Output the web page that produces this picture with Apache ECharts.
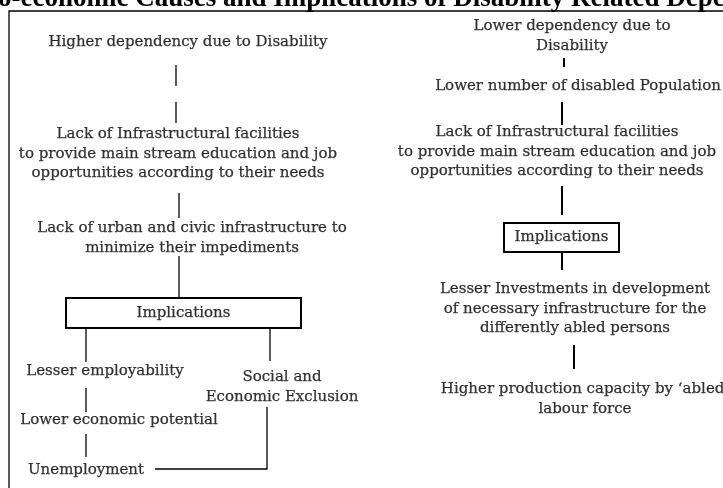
<!DOCTYPE html>
<html>
<head>
<meta charset="utf-8">
<script src="https://cdn.jsdelivr.net/npm/echarts@6/dist/echarts.min.js"></script>
<style>
  html, body { margin: 0; padding: 0; background: #fff; }
  #chart { width: 723px; height: 488px; }
</style>
</head>
<body>
<div id="chart"></div>
<script>
// 流程图：残疾相关依赖的社会经济原因与影响
const titleText = "Socio-economic Causes and Implications of Disability Related Dependency";

// text nodes (centre positions in page units)
const nodeTexts = [
  "Higher dependency due to Disability",
  "Lack of Infrastructural facilities\nto provide main stream education and job\nopportunities according to their needs",
  "Lack of urban and civic infrastructure to\nminimize their impediments",
  "Lesser employability",
  "Social and\nEconomic Exclusion",
  "Lower economic potential",
  "Unemployment",
  "Lower dependency due to\nDisability",
  "Lower number of disabled Population",
  "Lack of Infrastructural facilities\nto provide main stream education and job\nopportunities according to their needs",
  "Lesser Investments in development\nof necessary infrastructure for the\ndifferently abled persons",
  "Higher production capacity by \u2018abled\u2019\nlabour force"
];
const nodeX = [188, 178, 192, 105, 282, 119, 86, 572, 578, 557, 575, 585];
const nodeY = [42, 154, 238, 371, 387, 420, 470, 36, 86, 152, 309, 399];

// boxed headings
const boxTexts = ["Implications", "Implications"];
const boxX = [183.5, 561.5];
const boxY = [313, 237.5];
const boxW = [235, 115];
const boxH = [30, 29];

// connector polylines
const leftLinks = [
  [[176, 65], [176, 86]],
  [[176, 102], [176, 123]],
  [[179, 193], [179, 218]],
  [[179, 256], [179, 298]],
  [[86, 328], [86, 362]],
  [[270, 328], [270, 361]],
  [[86, 388], [86, 412]],
  [[86, 434], [86, 457]],
  [[155, 469], [267, 469], [267, 407]]
];
const rightLinks = [
  [[564, 58], [564, 67]],
  [[562, 102], [562, 125]],
  [[562, 186], [562, 215]],
  [[562, 252], [562, 270]],
  [[574, 345], [574, 369]]
];
const frame = [[[9, 488], [9, 11], [723, 11]]];

(function () {
  var myChart = echarts.init(document.getElementById("chart"));
  const font = "DejaVu Serif";

  const toLines = (arr) => arr.map((c) => ({ coords: c }));
  const textLabel = {
    show: true,
    position: "inside",
    formatter: (p) => p.name,
    color: "#000",
    fontFamily: font,
    fontSize: 15,
    lineHeight: 19.5,
    align: "center",
    textBorderColor: "#000",
    textBorderWidth: 0.25
  };

  var option = {
    animation: false,
    grid: { left: 0, right: 0, top: 0, bottom: 0 },
    xAxis: { type: "value", min: 0, max: 723, show: false },
    yAxis: { type: "value", min: 0, max: 488, inverse: true, show: false },
    graphic: [
      {
        type: "text",
        x: -50,
        y: 13,
        style: {
          text: titleText,
          fontFamily: "Liberation Serif",
          fontWeight: "bold",
          fontSize: 27,
          fill: "#000",
          textAlign: "left",
          textVerticalAlign: "bottom"
        }
      }
    ],
    series: [
      {
        type: "lines",
        coordinateSystem: "cartesian2d",
        polyline: true,
        silent: true,
        lineStyle: { color: "#000", width: 1.3, opacity: 1 },
        data: toLines(leftLinks.concat(frame))
      },
      {
        type: "lines",
        coordinateSystem: "cartesian2d",
        polyline: true,
        silent: true,
        lineStyle: { color: "#000", width: 2, opacity: 1 },
        data: toLines(rightLinks)
      },
      {
        // 方框
        type: "custom",
        silent: true,
        z: 3,
        data: boxTexts.map((t, i) => [boxX[i], boxY[i], boxW[i], boxH[i]]),
        renderItem: function (params, api) {
          const c = api.coord([api.value(0), api.value(1)]);
          const w = api.value(2);
          const h = api.value(3);
          return {
            type: "rect",
            shape: { x: Math.round(c[0] - w / 2), y: Math.round(c[1] - h / 2), width: w, height: h },
            style: { fill: "#fff", stroke: "#000", lineWidth: 2 }
          };
        }
      },
      {
        type: "scatter",
        symbolSize: 1,
        silent: true,
        z: 5,
        itemStyle: { color: "rgba(0,0,0,0)" },
        data: boxTexts.map((t, i) => ({ value: [boxX[i], boxY[i]], name: t })),
        label: textLabel
      },
      {
        type: "scatter",
        symbolSize: 1,
        silent: true,
        z: 5,
        itemStyle: { color: "rgba(0,0,0,0)" },
        data: nodeTexts.map((t, i) => ({ value: [nodeX[i], nodeY[i]], name: t })),
        label: textLabel
      }
    ]
  };

  myChart.setOption(option);
  window.addEventListener("resize", function () {
    myChart.resize();
  });
})();
</script>
</body>
</html>
